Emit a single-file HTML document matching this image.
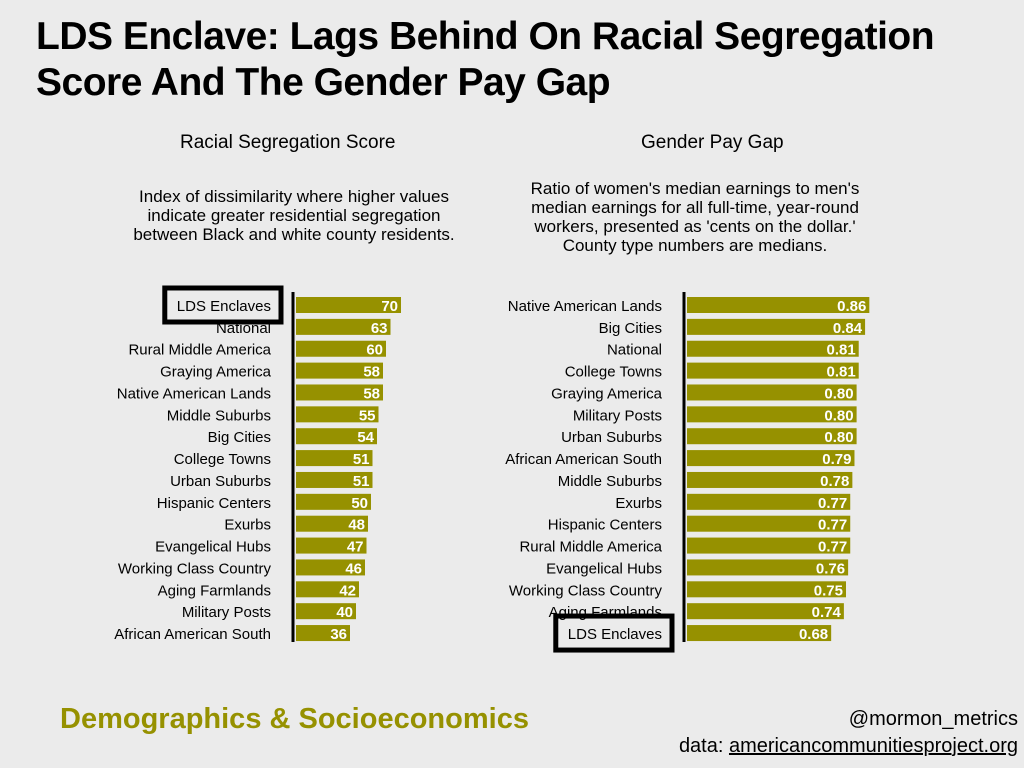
<!DOCTYPE html>
<html><head><meta charset="utf-8"><style>
body{margin:0;width:1024px;height:768px;background:#ebebeb;font-family:"Liberation Sans","DejaVu Sans",sans-serif;overflow:hidden;position:relative}
.t{position:absolute;white-space:nowrap}
</style></head><body>
<div class="t" style="left:36px;top:14px;font-size:39px;font-weight:bold;line-height:46px;letter-spacing:-0.5px;color:#000">LDS Enclave: Lags Behind On Racial Segregation<br>Score And The Gender Pay Gap</div>
<div class="t" style="left:180px;top:132px;font-size:19px">Racial Segregation Score</div>
<div class="t" style="left:641px;top:132px;font-size:19px">Gender Pay Gap</div>
<div class="t" style="left:100px;width:388px;top:187px;font-size:17px;line-height:19px;text-align:center">Index of dissimilarity where higher values<br>indicate greater residential segregation<br>between Black and white county residents.</div>
<div class="t" style="left:510px;width:370px;top:179px;font-size:17px;line-height:19px;text-align:center">Ratio of women's median earnings to men's<br>median earnings for all full-time, year-round<br>workers, presented as 'cents on the dollar.'<br>County type numbers are medians.</div>
<svg id="c" width="1024" height="768" style="position:absolute;left:0;top:0"></svg>
<div class="t" style="left:60px;top:703px;font-size:29px;font-weight:bold;color:#969100">Demographics &amp; Socioeconomics</div>
<div class="t" style="right:6px;top:708px;font-size:20px">@mormon_metrics</div>
<div class="t" style="right:6px;top:735px;font-size:20px">data: <span style="text-decoration:underline">americancommunitiesproject.org</span></div>
<script>
const leftCats=["LDS Enclaves","National","Rural Middle America","Graying America","Native American Lands","Middle Suburbs","Big Cities","College Towns","Urban Suburbs","Hispanic Centers","Exurbs","Evangelical Hubs","Working Class Country","Aging Farmlands","Military Posts","African American South"];
const leftVals=[70,63,60,58,58,55,54,51,51,50,48,47,46,42,40,36];
const rightCats=["Native American Lands","Big Cities","National","College Towns","Graying America","Military Posts","Urban Suburbs","African American South","Middle Suburbs","Exurbs","Hispanic Centers","Rural Middle America","Evangelical Hubs","Working Class Country","Aging Farmlands","LDS Enclaves"];
const rightVals=[0.86,0.84,0.81,0.81,0.80,0.80,0.80,0.79,0.78,0.77,0.77,0.77,0.76,0.75,0.74,0.68];
const svg=document.getElementById('c');const NS='http://www.w3.org/2000/svg';
function mk(t,a){const e=document.createElementNS(NS,t);for(const k in a)e.setAttribute(k,a[k]);svg.appendChild(e);return e;}
function chart(cats,vals,x0,scale,fmt,hi,pfx){
  const y=i=>297+i*21.87;
  cats.forEach((c,i)=>{
    const w=vals[i]*scale;
    const r=mk('rect',{x:x0,y:y(i),width:w,height:16,fill:'#969100'});
    
    
    const v=mk('text',{x:x0+w-3,y:y(i)+14,'text-anchor':'end','font-size':15,'font-weight':'bold',fill:'#fff'});
    v.textContent=fmt(vals[i]);
    
    
    const l=mk('text',{x:x0-25,y:y(i)+14,'text-anchor':'end','font-size':15,fill:'#000'});
    l.textContent=c;
    
    
    if(c===hi){
      const len=l.getComputedTextLength();
      const b=mk('rect',{x:x0-25-len-12,y:y(i)-9,width:len+22,height:34,fill:'none',stroke:'#000','stroke-width':5});
      
      
    }
  });
  const a=mk('line',{x1:x0-3,x2:x0-3,y1:292,y2:642,stroke:'#000','stroke-width':3});
  
  
}
chart(leftCats,leftVals,296,1.5,v=>String(v),'LDS Enclaves','left');
chart(rightCats,rightVals,687,212,v=>v.toFixed(2),'LDS Enclaves','right');
</script>
</body></html>
